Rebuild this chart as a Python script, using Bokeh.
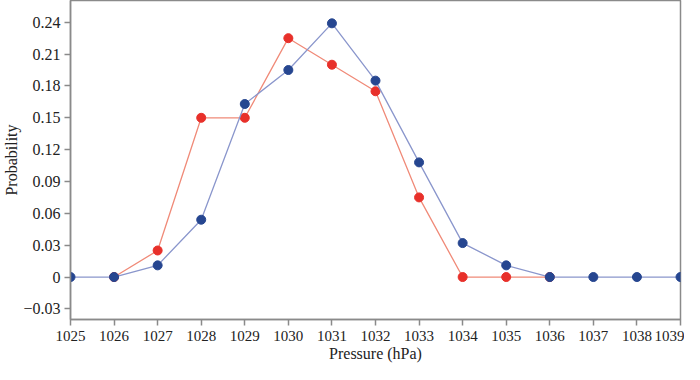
from bokeh.plotting import figure
from bokeh.models import FixedTicker, Range1d
from bokeh.embed import file_html
from bokeh.resources import INLINE

pressure = list(range(1025, 1040))
blue_x = pressure
blue_y = [0, 0, 0.011, 0.054, 0.163, 0.195, 0.239, 0.185, 0.108, 0.032, 0.011, 0, 0, 0, 0]
red_x = list(range(1026, 1037))
red_y = [0, 0.025, 0.15, 0.15, 0.225, 0.2, 0.175, 0.075, 0, 0, 0]

y_ticks = [-0.03, 0, 0.03, 0.06, 0.09, 0.12, 0.15, 0.18, 0.21, 0.24]
y_labels = ["\u22120.03", "0", "0.03", "0.06", "0.09", "0.12", "0.15", "0.18", "0.21", "0.24"]
x_ticks = pressure

FONT = "Liberation Serif"
GRAY = "#8a8a8a"

p = figure(width=684, height=364, output_backend="svg", toolbar_location=None,
           x_range=Range1d(1025, 1039), y_range=Range1d(-0.04, 0.2605),
           min_border_left=52, min_border_right=4, min_border_top=0, min_border_bottom=44)

p.xgrid.visible = False
p.ygrid.visible = False
p.outline_line_color = GRAY
p.outline_line_width = 1.5

for ax in (p.xaxis[0], p.yaxis[0]):
    ax.axis_line_color = GRAY
    ax.axis_line_width = 1.5
    ax.major_tick_line_color = GRAY
    ax.major_tick_line_width = 1.5
    ax.major_tick_out = 6
    ax.major_tick_in = 0
    ax.minor_tick_line_color = None
    ax.major_label_text_font = FONT
    ax.major_label_text_color = "#222222"
    ax.axis_label_text_font = FONT
    ax.axis_label_text_font_size = "16px"
    ax.axis_label_text_font_style = "normal"
    ax.axis_label_text_color = "#222222"

p.xaxis.major_label_text_font_size = "15px"
p.yaxis.major_label_text_font_size = "16px"
p.xaxis.ticker = FixedTicker(ticks=x_ticks)
p.yaxis.ticker = FixedTicker(ticks=y_ticks)
p.yaxis.major_label_overrides = {t: l for t, l in zip(y_ticks, y_labels)}
p.xaxis.axis_label = "Pressure (hPa)"
p.yaxis.axis_label = "Probability"
p.xaxis.major_label_standoff = 5
p.xaxis.axis_label_standoff = 1
p.yaxis.major_label_standoff = 4
p.yaxis.axis_label_standoff = 0

p.line(red_x, red_y, line_color="#f08a78", line_width=1.3)
p.scatter(red_x, red_y, size=9, fill_color="#e8302a", line_color="#e8302a")
p.line(blue_x, blue_y, line_color="#8a96cc", line_width=1.3)
p.scatter(blue_x, blue_y, size=9, fill_color="#264690", line_color="#264690")

open("out.html", "w").write(file_html(p, INLINE))
